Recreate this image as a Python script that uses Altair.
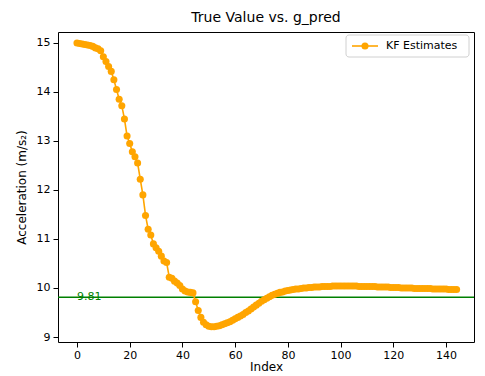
import altair as alt
import pandas as pd

index = list(range(145))
kf_estimates = [
    15.00, 14.99, 14.98, 14.97, 14.96, 14.95, 14.93, 14.90, 14.88, 14.84,
    14.72, 14.62, 14.52, 14.42, 14.25, 14.05, 13.85, 13.72, 13.45, 13.10,
    12.95, 12.78, 12.68, 12.55, 12.22, 11.90, 11.48, 11.20, 11.08, 10.90,
    10.82, 10.75, 10.65, 10.55, 10.52, 10.22, 10.20, 10.14, 10.10, 10.05,
    9.98, 9.94, 9.92, 9.91, 9.90, 9.72, 9.54, 9.40, 9.30, 9.25,
    9.22, 9.21, 9.21, 9.22, 9.23, 9.25, 9.27, 9.29, 9.31, 9.34,
    9.37, 9.40, 9.43, 9.46, 9.50, 9.53, 9.57, 9.61, 9.65, 9.69,
    9.73, 9.76, 9.79, 9.82, 9.85, 9.87, 9.89, 9.91, 9.92, 9.94,
    9.95, 9.96, 9.97, 9.98, 9.98, 9.99, 10.00, 10.00, 10.01, 10.01,
    10.02, 10.02, 10.02, 10.03, 10.03, 10.03, 10.03, 10.04, 10.04, 10.04,
    10.04, 10.04, 10.04, 10.04, 10.04, 10.04, 10.04, 10.03, 10.03, 10.03,
    10.03, 10.03, 10.03, 10.03, 10.02, 10.02, 10.02, 10.02, 10.02, 10.01,
    10.01, 10.01, 10.01, 10.00, 10.00, 10.00, 10.00, 10.00, 9.99, 9.99,
    9.99, 9.99, 9.99, 9.99, 9.99, 9.98, 9.98, 9.98, 9.98, 9.98,
    9.98, 9.97, 9.97, 9.97, 9.97,
]
true_value = [9.81]
x_ticks = [0, 20, 40, 60, 80, 100, 120, 140]
y_ticks = [9, 10, 11, 12, 13, 14, 15]

df = pd.DataFrame({"Index": index, "KF": kf_estimates})
ref = pd.DataFrame({"g": true_value, "x0": [0], "label": ["9.81"]})

FONT = "DejaVu Sans"
ORANGE = "#FFA500"
GREEN = "#008000"

xs = alt.Scale(domain=[-7.2, 150.6], nice=False, zero=False)
ys = alt.Scale(domain=[8.898, 15.224], nice=False, zero=False)

X = alt.X("Index:Q", scale=xs, title="Index",
          axis=alt.Axis(values=x_ticks, format="d"))
Y = alt.Y("KF:Q", scale=ys, title="Acceleration (m/s₂)",
          axis=alt.Axis(values=y_ticks, format="d"))

line = alt.Chart(df).mark_line(color=ORANGE, strokeWidth=1.6).encode(x=X, y=Y)
pts = alt.Chart(df).mark_point(filled=True, color=ORANGE, size=50, opacity=1).encode(x=X, y=Y)

hline = alt.Chart(ref).mark_rule(color=GREEN, strokeWidth=1.6).encode(
    y=alt.Y("g:Q", scale=ys))
htext = alt.Chart(ref).mark_text(color=GREEN, align="left", baseline="middle",
                                 fontSize=11, font=FONT).encode(
    x=alt.X("x0:Q", scale=xs), y=alt.Y("g:Q", scale=ys), text="label:N")

one = alt.Data(values=[{"k": "KF Estimates"}])
leg_box = alt.Chart(one).mark_rect(fill="white", stroke="#d0d0d0", strokeWidth=1,
                                   cornerRadius=3).encode(
    x=alt.value(288), x2=alt.value(411), y=alt.value(3), y2=alt.value(25))
leg_line = alt.Chart(one).mark_rule(color=ORANGE, strokeWidth=1.6).encode(
    x=alt.value(294), x2=alt.value(320), y=alt.value(14))
leg_pt = alt.Chart(one).mark_point(filled=True, color=ORANGE, size=50, opacity=1).encode(
    x=alt.value(307), y=alt.value(14))
leg_txt = alt.Chart(one).mark_text(align="left", baseline="middle", fontSize=11,
                                   font=FONT, color="black").encode(
    x=alt.value(328), y=alt.value(14), text="k:N")

chart = alt.layer(hline, line, pts, htext, leg_box, leg_line, leg_pt, leg_txt).properties(
    width=416, height=310,
    title=alt.Title("True Value vs. g_pred", fontSize=14, font=FONT, fontWeight="normal",
                    color="black", offset=7),
    autosize=alt.AutoSizeParams(type="none"),
    padding={"left": 50, "top": 24, "right": 3, "bottom": 32},
).configure_view(stroke="black", strokeWidth=1).configure_axis(
    grid=False, domain=False, tickColor="black", tickSize=5, tickWidth=1,
    labelColor="black", labelFont=FONT, labelFontSize=11, titleFont=FONT,
    titleFontSize=12, titleFontWeight="normal", titleColor="black", labelPadding=3,
).configure_axisX(titlePadding=1, labelPadding=2).configure_axisY(titlePadding=8)

chart.save("out.html", embed_options={"renderer": "svg", "actions": False})
